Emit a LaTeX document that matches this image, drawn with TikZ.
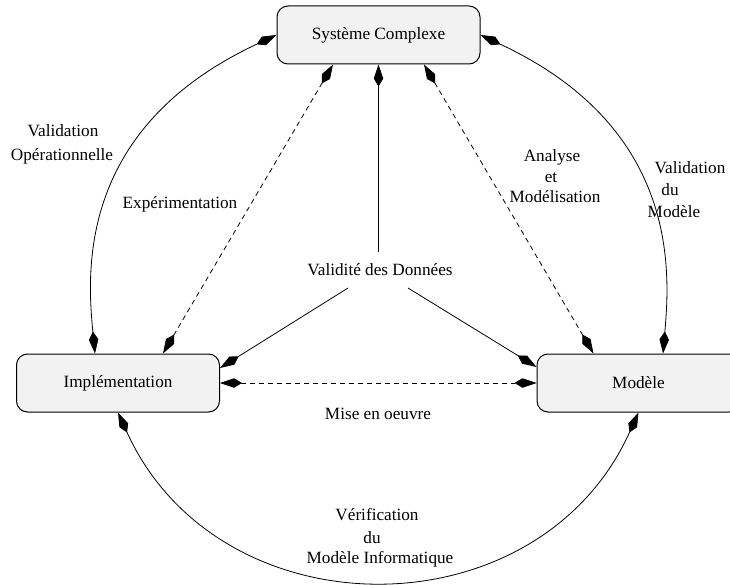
\documentclass[tikz,border=0pt]{standalone}
\usepackage{fontspec}
\setmainfont{Liberation Serif}
\usetikzlibrary{arrows.meta}
\definecolor{boxgray}{HTML}{F2F2F2}
\tikzset{
  tipk/.tip={Kite[length=22pt,width=9.5pt,inset=8pt]},
  box/.style={draw, line width=1pt, rounded corners=11pt, fill=boxgray,
    minimum width=203pt, minimum height=58pt, inner sep=0pt,
    font=\fontsize{17.2}{20}\selectfont},
  lbl/.style={anchor=base, inner sep=0pt, font=\fontsize{17.2}{20}\selectfont},
  both/.style={line width=0.8pt, {tipk}-{tipk}},
  dboth/.style={line width=0.8pt, dash pattern=on 5pt off 4pt, {tipk}-{tipk}},
  one/.style={line width=0.8pt, -{tipk}}
}
\begin{document}
\begin{tikzpicture}[x=1pt,y=-1pt]
\useasboundingbox (0,0) rectangle (730,585);
\clip (0,0) rectangle (730,585);

% boxes
\node[box] (sys) at (378.5,35) {Système Complexe};
\node[box] (impl) at (118,383) {Implémentation};
\node[box] (model) at (638.5,383) {Modèle};

% labels
\node[lbl] (vo1) at (63,136.5) {Validation};
\node[lbl] (vo2) at (62,160.5) {Opérationnelle};
\node[lbl] (exp) at (180,208.5) {Expérimentation};
\node[lbl] (am1) at (552,161.5) {Analyse};
\node[lbl] (am2) at (551,182.5) {et};
\node[lbl] (am3) at (555,202.5) {Modélisation};
\node[lbl] (vm1) at (690,173.5) {Validation};
\node[lbl] (vm2) at (670,195.5) {du};
\node[lbl] (vm3) at (674,217.5) {Modèle};
\node[lbl] (vd) at (380,275.5) {Validité des Données};
\node[lbl] (meo) at (378,419.5) {Mise en oeuvre};
\node[lbl] (vi1) at (377,520.5) {Vérification};
\node[lbl] (vi2) at (372,543.5) {du};
\node[lbl] (vi3) at (380,563.5) {Modèle Informatique};

% free ends near "Validité des Données"
\coordinate (vdt) at (378.5,252);
\coordinate (vdl) at (348,288);
\coordinate (vdr) at (408,288);

% outer arcs
\draw[both] (sys.west) .. controls (77,128) and (87,272) .. ([xshift=-23pt]impl.north);
\draw[both] (sys.east) .. controls (680,128) and (670,272) .. ([xshift=24.5pt]model.north);
\draw[both] (impl.south) .. controls (219,635) and (538,635) .. (model.south);

% dashed links
\draw[dboth] ([xshift=-45.5pt]sys.south) -- ([xshift=45pt]impl.north);
\draw[dboth] ([xshift=45.5pt]sys.south) -- ([xshift=-45pt]model.north);
\draw[dboth] (impl.east) -- (model.west);

% data validity links
\draw[one] (vdt) -- (sys.south);
\draw[one] (vdl) -- ([yshift=15pt]impl.east);
\draw[one] (vdr) -- ([yshift=16pt]model.west);
\end{tikzpicture}
\end{document}
